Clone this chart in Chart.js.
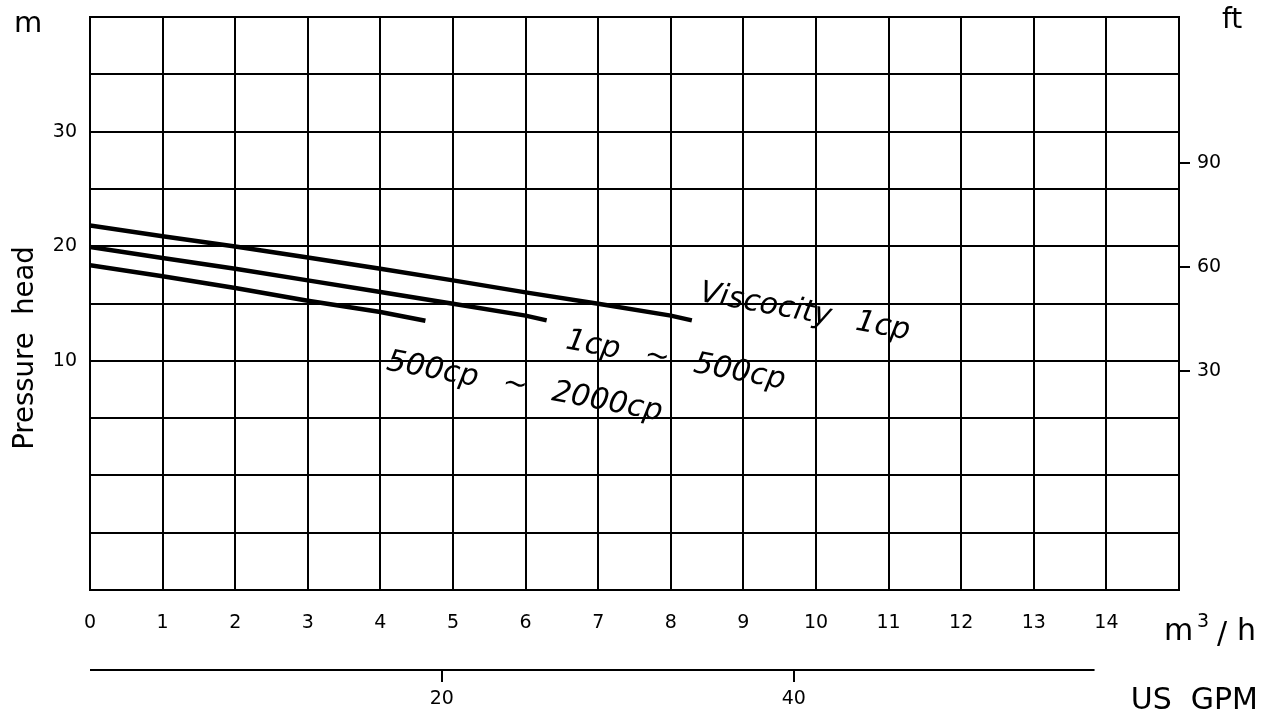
<!DOCTYPE html>
<html>
<head>
<meta charset="utf-8">
<script src="https://cdn.jsdelivr.net/npm/chart.js@4/dist/chart.umd.min.js"></script>
<style>
  html, body { margin: 0; padding: 0; background: #fff; }
  #wrap { width: 1271px; height: 715px; }
</style>
</head>
<body>
<div id="wrap"><canvas id="pumpChart" width="1271" height="715"></canvas></div>
<script>
// flow (m3/h) and head (m)
const flow1cp = [0, 1, 2, 3, 4, 5, 6, 7, 8, 8.29];
const head1cp = [21.8, 20.86, 19.98, 19.02, 18.04, 17.02, 15.97, 14.98, 13.94, 13.53];

const flow500cp = [0, 1, 2, 3, 4, 5, 6, 6.29];
const head500cp = [19.93, 18.97, 18.04, 17.02, 16.0, 14.98, 13.94, 13.53];

const flow2000cp = [0, 1, 2, 3, 4, 4.62];
const head2000cp = [18.33, 17.37, 16.35, 15.24, 14.26, 13.5];

// axis ticks
const flowTicks = [0, 1, 2, 3, 4, 5, 6, 7, 8, 9, 10, 11, 12, 13, 14];
const headTicks = [10, 20, 30];
const feetTicks = [30, 60, 90];
const gpmTicks = [20, 40];
const gpmLineEnd = 57.1;

// curve labels: text, flow, head at left baseline
const gap = '  \u2009';
const curveLabels = [
  { text: 'Viscocity' + gap + '1cp', x: 8.38, y: 15.25 },
  { text: '1cp' + gap + '~' + gap + '500cp', x: 6.54, y: 11.1 },
  { text: '500cp' + gap + '~' + gap + '2000cp', x: 4.07, y: 9.25 }
];

const toPoints = (xs, ys) => xs.map((x, i) => ({ x: x, y: ys[i] }));

Chart.defaults.font.family = "'DejaVu Sans', sans-serif";
Chart.defaults.font.size = 19;
Chart.defaults.color = '#000';

const lineStyle = { borderColor: '#000', borderWidth: 4.5, pointRadius: 0, tension: 0, fill: false };

// keep chart area where the original grid sits
const noPad = s => { s.paddingTop = 0; s.paddingBottom = 0; s.paddingLeft = 0; s.paddingRight = 0; };

const textPlugin = {
  id: 'chartText',
  afterDraw(chart) {
    const ctx = chart.ctx;
    const xs = chart.scales.x, ys = chart.scales.y, gs = chart.scales.gpm;
    ctx.save();
    ctx.fillStyle = '#000';
    ctx.strokeStyle = '#000';

    // partial GPM axis line
    ctx.lineWidth = 2;
    ctx.beginPath();
    ctx.moveTo(gs.left, gs.top);
    ctx.lineTo(gs.getPixelForValue(gpmLineEnd), gs.top);
    ctx.stroke();

    ctx.textBaseline = 'alphabetic';
    ctx.textAlign = 'left';
    ctx.font = "29px 'DejaVu Sans'";
    ctx.fillText('m', 14, 32);
    ctx.font = "28px 'DejaVu Sans'";
    ctx.fillText('ft', 1222, 28);

    // m3/h
    ctx.font = "30px 'DejaVu Sans'";
    ctx.fillText('m', 1164, 640);
    ctx.font = "19px 'DejaVu Sans'";
    ctx.fillText('3', 1197, 627);
    ctx.font = "30px 'DejaVu Sans'";
    ctx.fillText('/', 1217, 643);
    ctx.fillText('h', 1237, 640);

    ctx.textAlign = 'right';
    ctx.fillText('US  GPM', 1258, 709);

    // y title
    ctx.save();
    ctx.translate(33, 348);
    ctx.rotate(-Math.PI / 2);
    ctx.textAlign = 'center';
    ctx.font = "27.5px 'DejaVu Sans'";
    ctx.fillText('Pressure  head', 0, 0);
    ctx.restore();

    // curve labels
    ctx.font = "italic 30px 'DejaVu Sans'";
    ctx.textAlign = 'left';
    curveLabels.forEach(l => {
      ctx.save();
      ctx.translate(xs.getPixelForValue(l.x), ys.getPixelForValue(l.y));
      ctx.rotate(10.5 * Math.PI / 180);
      ctx.fillText(l.text, 0, 0);
      ctx.restore();
    });
    ctx.restore();
  }
};

new Chart(document.getElementById('pumpChart'), {
  type: 'line',
  data: {
    datasets: [
      { label: 'Viscocity 1cp', data: toPoints(flow1cp, head1cp), ...lineStyle },
      { label: '1cp ~ 500cp', data: toPoints(flow500cp, head500cp), ...lineStyle },
      { label: '500cp ~ 2000cp', data: toPoints(flow2000cp, head2000cp), ...lineStyle }
    ]
  },
  options: {
    responsive: false,
    animation: false,
    devicePixelRatio: 1,
    layout: { padding: { top: 17, left: 0, right: 0, bottom: 0 } },
    plugins: { legend: { display: false }, tooltip: { enabled: false } },
    scales: {
      x: {
        type: 'linear',
        position: 'bottom',
        min: 0,
        max: 15,
        afterBuildTicks: s => { s.ticks = flowTicks.concat([15]).map(v => ({ value: v })); },
        ticks: {
          padding: 22,
          maxRotation: 0,
          autoSkip: false,
          callback: v => (flowTicks.includes(v) ? String(v) : '')
        },
        grid: { color: '#000', lineWidth: 2, drawTicks: false },
        border: { display: true, color: '#000', width: 2 },
        afterFit: s => { s.height = 80; noPad(s); }
      },
      gpm: {
        type: 'linear',
        position: 'bottom',
        min: 0,
        max: 61.9,
        afterBuildTicks: s => { s.ticks = gpmTicks.map(v => ({ value: v })); },
        ticks: { padding: 6, maxRotation: 0, autoSkip: false },
        grid: { drawOnChartArea: false, color: '#000', lineWidth: 2, tickLength: 12 },
        border: { display: false },
        afterFit: s => { s.height = 45; noPad(s); }
      },
      y: {
        type: 'linear',
        position: 'left',
        min: -10,
        max: 40,
        ticks: {
          stepSize: 5,
          padding: 13,
          callback: v => (headTicks.includes(v) ? String(v) : '')
        },
        grid: { color: '#000', lineWidth: 2, drawTicks: false },
        border: { display: true, color: '#000', width: 2 },
        afterFit: s => { s.width = 90; noPad(s); }
      },
      ft: {
        type: 'linear',
        position: 'right',
        min: -33.3,
        max: 132.1,
        afterBuildTicks: s => { s.ticks = feetTicks.map(v => ({ value: v })); },
        ticks: { padding: 7, autoSkip: false },
        grid: { drawOnChartArea: false, color: '#000', lineWidth: 2, tickLength: 11 },
        border: { display: true, color: '#000', width: 2 },
        afterFit: s => { s.width = 92; noPad(s); }
      }
    }
  },
  plugins: [textPlugin]
});
</script>
</body>
</html>
